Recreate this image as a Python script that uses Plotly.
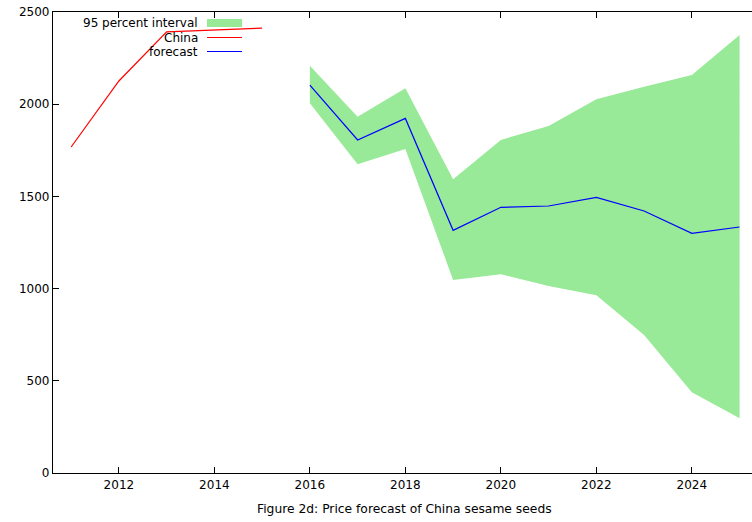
import plotly.graph_objects as go

# Historical China price
hist_years = [2011, 2012, 2013, 2014, 2015]
hist_values = [1768, 2126, 2392, 2403, 2413]

# Forecast with 95 percent interval
fc_years = [2016, 2017, 2018, 2019, 2020, 2021, 2022, 2023, 2024, 2025]
fc_values = [2104, 1806, 1923, 1316, 1441, 1448, 1495, 1421, 1300, 1334]
fc_upper = [2209, 1932, 2086, 1593, 1806, 1882, 2027, 2095, 2158, 2375]
fc_lower = [2005, 1674, 1757, 1047, 1078, 1014, 964, 748, 438, 297]

x_ticks = [2012, 2014, 2016, 2018, 2020, 2022, 2024]
y_ticks = [0, 500, 1000, 1500, 2000, 2500]

legend_labels = ["95 percent interval", "China", "forecast"]
caption = "Figure 2d: Price forecast of China sesame seeds"

GREEN = "#98EA98"
FONT = "DejaVu Sans"

W, H = 752, 522
L, R, T, B = 53, 0, 12, 49
PW, PH = W - L - R, H - T - B


def px(xp):
    return (xp - L) / PW


def py(yp):
    return (H - B - yp) / PH


fig = go.Figure()
fig.add_trace(go.Scatter(x=fc_years, y=fc_lower, mode="lines",
                         line=dict(width=0, color=GREEN), showlegend=False,
                         hoverinfo="skip"))
fig.add_trace(go.Scatter(x=fc_years, y=fc_upper, mode="lines",
                         line=dict(width=0, color=GREEN), fill="tonexty",
                         fillcolor=GREEN, showlegend=False, name=legend_labels[0]))
fig.add_trace(go.Scatter(x=hist_years, y=hist_values, mode="lines",
                         line=dict(width=1.2, color="#FF0000"), showlegend=False,
                         name=legend_labels[1]))
fig.add_trace(go.Scatter(x=fc_years, y=fc_values, mode="lines",
                         line=dict(width=1.2, color="#0000FF"), showlegend=False,
                         name=legend_labels[2]))

# Gnuplot-style key (text right-aligned, sample on the right)
rows_y = [23, 37.5, 51.5]
for lbl, yy in zip(legend_labels, rows_y):
    fig.add_annotation(x=px(200), y=py(yy), xref="paper", yref="paper",
                       text=lbl, showarrow=False, xanchor="right", yanchor="middle",
                       font=dict(family=FONT, size=12, color="#000000"))
fig.add_shape(type="rect", xref="paper", yref="paper",
              x0=px(207), x1=px(242), y0=py(27), y1=py(19),
              fillcolor=GREEN, line=dict(width=0))
fig.add_shape(type="line", xref="paper", yref="paper",
              x0=px(207), x1=px(242), y0=py(37.5), y1=py(37.5),
              line=dict(color="#FF0000", width=1))
fig.add_shape(type="line", xref="paper", yref="paper",
              x0=px(207), x1=px(242), y0=py(51.5), y1=py(51.5),
              line=dict(color="#0000FF", width=1))

fig.add_annotation(x=px(404), y=py(509), xref="paper", yref="paper",
                   text=caption, showarrow=False, xanchor="center", yanchor="middle",
                   font=dict(family=FONT, size=12.3, color="#000000"))

fig.update_layout(
    width=W, height=H,
    margin=dict(l=L, r=R, t=T, b=B),
    paper_bgcolor="white", plot_bgcolor="white",
    showlegend=False,
    font=dict(family=FONT, size=12, color="#000000"),
    xaxis=dict(range=[2010.62, 2025.26], tickvals=x_ticks,
               ticktext=[str(v) for v in x_ticks],
               showgrid=False, zeroline=False, showline=True,
               linecolor="#000000", linewidth=1.3, mirror="ticks",
               ticks="inside", ticklen=6, tickcolor="#000000", tickwidth=1,
               tickfont=dict(family=FONT, size=12), ticklabeloverflow="allow"),
    yaxis=dict(range=[0, 2500], tickvals=y_ticks,
               showgrid=False, zeroline=False, showline=True,
               linecolor="#000000", linewidth=1.3,
               ticks="inside", ticklen=6, tickcolor="#000000", tickwidth=1,
               tickfont=dict(family=FONT, size=12), ticklabeloverflow="allow"),
)

fig.write_html(
    "out.html",
    config={"displayModeBar": False},
    post_script="document.body.style.margin='0';document.body.style.overflow='hidden';",
)
